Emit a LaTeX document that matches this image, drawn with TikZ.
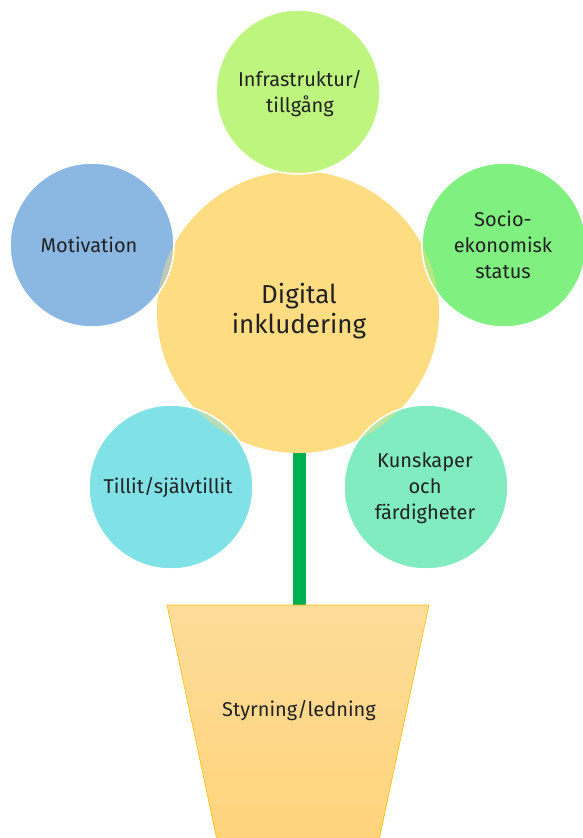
\documentclass[tikz,border=0pt]{standalone}
\usepackage{fontspec}
\setmainfont{Fira Sans}
\definecolor{cCenter}{HTML}{FEDC82}
\definecolor{cTop}{HTML}{BDF57F}
\definecolor{cMot}{HTML}{8BB8E2}
\definecolor{cSoc}{HTML}{80F080}
\definecolor{cTil}{HTML}{80E1E6}
\definecolor{cKun}{HTML}{80ECC0}
\definecolor{cStem}{HTML}{00B050}
\definecolor{cPotTop}{HTML}{FDDC9A}
\definecolor{cPotBot}{HTML}{FED37A}
\definecolor{cPotLine}{HTML}{FFC000}
\definecolor{cText}{HTML}{222222}
\tikzset{
  lbl/.style={text=cText, font=\fontsize{20}{26}\selectfont, align=center, inner sep=0pt},
  biglbl/.style={text=cText, font=\fontsize{26}{30}\selectfont, align=center, inner sep=0pt},
  petal/.style={draw=white, line width=1.5pt},
}
\begin{document}
\begin{tikzpicture}[x=1pt,y=-1pt]
\useasboundingbox (0,0) rectangle (583,838);
\clip (0,0) rectangle (583,838);
% stem
\fill[cStem] (293,440) rectangle (306,606);
% pot
\path[draw=cPotLine, line width=0.6pt, top color=cPotTop, bottom color=cPotBot]
  (167,605) -- (429,605) -- (378,845) -- (218,845) -- cycle;
\node[lbl] (pot) at (299,711) {Styrning/ledning};
% centre
\fill[cCenter] (298,312) circle (141);
% petals
\foreach \x/\y/\c in {298/92/cTop, 92/245/cMot, 504/245/cSoc, 171/487/cTil, 426/487/cKun}{
  \fill[\c] (\x,\y) circle (82);
  \begin{scope}
    \clip (298,312) circle (141);
    \fill[cCenter, opacity=0.45] (\x,\y) circle (82);
  \end{scope}
  \draw[petal] (\x,\y) circle (82);
}
\node[biglbl] (centre) at (299,311) {Digital\\inkludering};
\node[lbl] (infra) at (300,94) {Infrastruktur/\\tillgång};
\node[lbl] (mot) at (89,245) {Motivation};
\node[lbl] (soc) at (503,245) {Socio-\\ekonomisk\\status};
\node[lbl] (til) at (168,488) {Tillit/självtillit};
\node[lbl] (kun) at (425,488) {Kunskaper\\och\\färdigheter};
\end{tikzpicture}
\end{document}
